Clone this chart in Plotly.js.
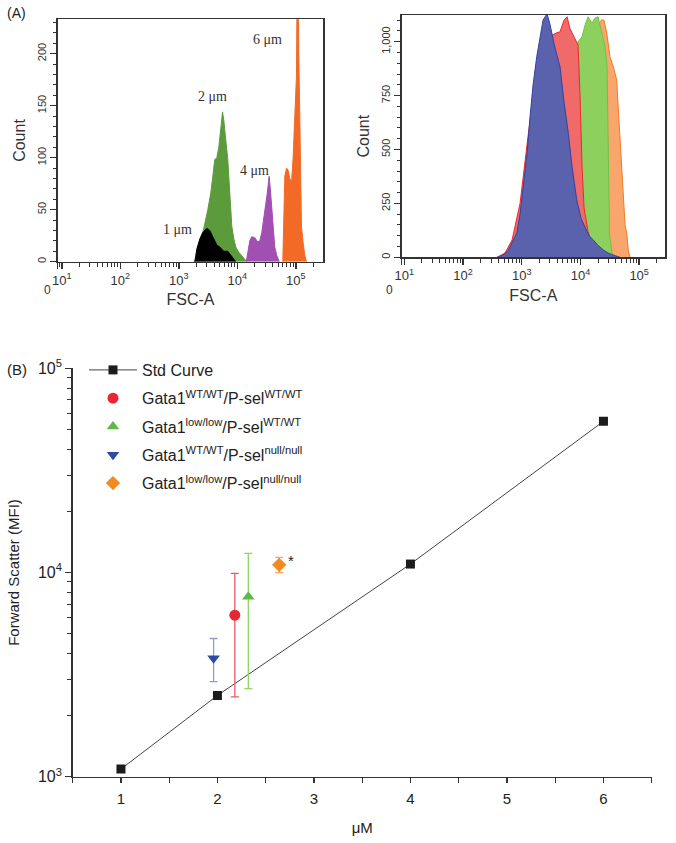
<!DOCTYPE html>
<html><head><meta charset="utf-8">
<script src="https://cdn.plot.ly/plotly-3.0.1.min.js"></script>
<style>html,body{margin:0;padding:0;background:#fff}#chart{width:676px;height:843px}</style>
</head><body><div id="chart"></div>
<script>
// ---------- Panel A (left): calibration beads, FSC-A vs count ----------
const bead1FSC   = [1880, 2030, 2290, 2570, 3010, 3390, 3810, 4470, 5020, 5880, 6880, 7740, 8710, 9420];
const bead1Count = [0, 12, 22, 28, 32, 30, 24, 16, 14, 10, 10, 6, 2, 0];
const bead2FSC   = [1803, 2031, 2287, 2675, 3131, 3524, 3811, 4122, 4465, 4829, 5224, 5585, 5876, 6356, 6880, 7158, 7446, 7745, 8057, 8714, 9424, 10610, 11940, 13430, 14530];
const bead2Count = [0, 4, 18, 32, 50, 66, 82, 98, 100, 110, 128, 144, 136, 118, 98, 82, 66, 50, 34, 22, 14, 9, 6, 2, 0];
const bead4FSC   = [14250, 15100, 16350, 17700, 19910, 22390, 24240, 26230, 28390, 30720, 32580, 34980, 36670, 38880, 41220, 43710, 47310, 52200];
const bead4Count = [0, 10, 20, 24, 23, 19, 20, 28, 40, 56, 66, 82, 70, 50, 30, 14, 6, 0];
const bead6FSC   = [59950, 62330, 64880, 69340, 73830, 78940, 84370, 90000, 96140, 102800, 106100, 109500, 112500, 117000, 120200, 125000, 133300, 142500, 152400];
const bead6Count = [0, 40, 82, 90, 88, 80, 76, 100, 140, 180, 300, 300, 200, 140, 66, 34, 18, 6, 0];

// ---------- Panel A (right): platelet FSC-A histograms ----------
const blueFSC    = [380, 480, 585, 684, 822, 936, 1052, 1231, 1384, 1559, 1801, 2052, 2307, 2698, 3036, 3550, 4489, 5256, 6223, 7196, 8652, 10240, 11970, 14010, 16600, 19960, 24560, 29520, 36310, 47300];
const blueCount  = [0, 10, 30, 70, 113, 200, 320, 480, 650, 800, 930, 1030, 1100, 1130, 1080, 990, 884, 720, 575, 420, 266, 180, 142, 100, 80, 55, 34, 20, 10, 0];
const redFSC     = [380, 520, 684, 936, 1279, 1753, 2400, 3284, 3839, 4489, 5256, 5914, 6653, 7783, 9103, 9845, 10650, 11520, 13470, 15760, 19960, 27310];
const redCount   = [0, 20, 80, 250, 560, 850, 1000, 1030, 1040, 1046, 1100, 1116, 1060, 1020, 985, 750, 420, 230, 120, 60, 25, 0];
const greenFSC   = [769, 1384, 2494, 3690, 5466, 7196, 9103, 10650, 11970, 13470, 15760, 17740, 19960, 23350, 26260, 28400, 30120, 31320, 34540, 40390];
const greenCount = [0, 60, 250, 500, 750, 920, 1000, 1023, 1077, 1116, 1087, 1110, 1116, 1040, 977, 884, 500, 100, 20, 0];
const orangeFSC  = [1384, 3036, 5466, 9845, 14600, 19960, 23070, 25230, 28050, 31920, 36310, 41500, 44230, 47300, 50550, 53840, 57510, 61500, 65500, 69980];
const orangeCount= [0, 200, 500, 850, 1000, 1080, 1102, 1100, 1040, 930, 884, 822, 683, 544, 420, 300, 150, 113, 30, 0];

// ---------- Panel B: forward scatter vs bead size ----------
const stdSize = [1, 2, 4, 6];
const stdMFI  = [1090, 2500, 11000, 55000];
const groupNames = [
  'Gata1<sup>WT/WT</sup>/P-sel<sup>WT/WT</sup>',
  'Gata1<sup>low/low</sup>/P-sel<sup>WT/WT</sup>',
  'Gata1<sup>WT/WT</sup>/P-sel<sup>null/null</sup>',
  'Gata1<sup>low/low</sup>/P-sel<sup>null/null</sup>'
];
const groupSize     = [2.18, 2.32, 1.96, 2.64];
const groupMFI      = [6180, 7600, 3800, 10900];
const groupErrPlus  = [3720, 4800, 950, 950];
const groupErrMinus = [3720, 4900, 880, 900];
const groupSymbols  = ['circle', 'triangle-up', 'triangle-down', 'diamond'];
const groupColors   = ['#e62630', '#5cb946', '#2c4b9e', '#f28a22'];
const groupErrColors= ['#ee5a62', '#93d26e', '#8e9fcf', '#f5a863'];

const FONT = 'Liberation Sans, Arial, sans-serif';
const SERIF = 'Liberation Serif, Times New Roman, serif';
const traces = [];

// Panel B traces (with legend)
traces.push({
  x: stdSize, y: stdMFI, name: 'Std Curve', type: 'scatter', mode: 'lines+markers',
  xaxis: 'x', yaxis: 'y', legendgroup: 'g0',
  line: {color: '#444', width: 1},
  marker: {symbol: 'square', size: 9, color: '#1c1c1c'}
});
for (let i = 0; i < groupNames.length; i++) {
  traces.push({
    x: [groupSize[i]], y: [groupMFI[i]], name: groupNames[i], type: 'scatter', mode: 'markers',
    xaxis: 'x', yaxis: 'y', legendgroup: 'g' + (i + 1),
    marker: {symbol: groupSymbols[i], size: 11, color: groupColors[i]},
    error_y: {type: 'data', symmetric: false, array: [groupErrPlus[i]], arrayminus: [groupErrMinus[i]],
              color: groupErrColors[i], thickness: 1.3, width: 4}
  });
}

// Panel A histograms
function hist(x, y, fill, line, xa, ya) {
  return {x: x, y: y, type: 'scatter', mode: 'lines', fill: 'tozeroy', fillcolor: fill,
          line: {color: line, width: 1}, xaxis: xa, yaxis: ya, showlegend: false, hoverinfo: 'skip'};
}
traces.push(hist(bead2FSC, bead2Count, '#5b9b3c', '#5b9b3c', 'x2', 'y2'));
traces.push(hist(bead1FSC, bead1Count, '#000000', '#000000', 'x2', 'y2'));
traces.push(hist(bead4FSC, bead4Count, '#a24fb3', '#a24fb3', 'x2', 'y2'));
traces.push(hist(bead6FSC, bead6Count, '#f26a25', '#f26a25', 'x2', 'y2'));
traces.push(hist(orangeFSC, orangeCount, '#f8a66c', '#f07a24', 'x3', 'y3'));
traces.push(hist(greenFSC, greenCount, '#8ed05e', '#72c043', 'x3', 'y3'));
traces.push(hist(redFSC, redCount, '#f16a6a', '#e82a2a', 'x3', 'y3'));
traces.push(hist(blueFSC, blueCount, '#5b62ad', '#3342a0', 'x3', 'y3'));

function minorLog(lo, hi) {
  const v = [];
  for (let e = lo; e <= hi; e++) for (let m = 2; m <= 9; m++) v.push(m * Math.pow(10, e));
  return v;
}
const rangeA1 = [0.93, 5.47];
const rangeA2 = [0.956, 5.44];
const decadeVals = [10, 100, 1000, 10000, 100000];
const decadeText = ['10<sup>1</sup>', '10<sup>2</sup>', '10<sup>3</sup>', '10<sup>4</sup>', '10<sup>5</sup>'];

function flowX(range, dom, anchor) {
  return {
    type: 'log', range: range, domain: dom, anchor: anchor,
    showline: true, mirror: true, linecolor: '#333', linewidth: 1.5,
    showgrid: false, zeroline: false,
    ticks: 'outside', ticklen: 6, tickwidth: 1.5, tickcolor: '#333',
    tickvals: [Math.pow(10, range[0])].concat(decadeVals), ticktext: [''].concat(decadeText),
    tickfont: {family: FONT, size: 13, color: '#333'},
    minor: {tickmode: 'array', tickvals: minorLog(0, 5).filter(v => Math.log10(v) > range[0] && Math.log10(v) < range[1]),
            ticks: 'outside', ticklen: 4, tickwidth: 1, tickcolor: '#333'},
    title: {text: 'FSC-A', font: {family: FONT, size: 16, color: '#333'}, standoff: 7}
  };
}
function flowY(range, dom, anchor, vals, text) {
  return {
    range: range, domain: dom, anchor: anchor,
    showline: true, mirror: true, linecolor: '#333', linewidth: 1.5,
    showgrid: false, zeroline: false,
    ticks: 'outside', ticklen: 6, tickwidth: 1.5, tickcolor: '#333',
    tickvals: vals, ticktext: text, tickangle: -90,
    tickfont: {family: FONT, size: 11, color: '#333'},
    title: {text: 'Count', font: {family: FONT, size: 16, color: '#333'}, standoff: 6}
  };
}

const yA1 = flowY([0, 233], [0.6896, 0.9771], 'x2', [0, 50, 100, 150, 200], ['0', '50', '100', '150', '200']);
yA1.minor = {dtick: 10, ticks: 'outside', ticklen: 3, tickwidth: 1, tickcolor: '#333'};
const yA2 = flowY([0, 1124], [0.6948, 0.9822], 'x3', [0, 250, 500, 750, 1000], ['0', '250', '500', '750', '1,000']);
yA2.minor = {dtick: 50, ticks: 'outside', ticklen: 3, tickwidth: 1, tickcolor: '#333'};

const layout = {
  width: 676, height: 843,
  margin: {l: 0, r: 0, t: 0, b: 0},
  paper_bgcolor: '#fff', plot_bgcolor: 'rgba(0,0,0,0)',
  font: {family: FONT, color: '#222'},
  showlegend: true,
  legend: {x: 84 / 676, y: 1 - 353 / 843, xanchor: 'left', yanchor: 'top',
           font: {family: FONT, size: 16, color: '#222'}, itemwidth: 48,
           tracegroupgap: 4.5, bgcolor: 'rgba(0,0,0,0)'},
  xaxis: {
    range: [0.5, 6.5], domain: [72.7 / 676, 651.7 / 676], anchor: 'y',
    showline: true, linecolor: '#333', linewidth: 1.5, showgrid: false, zeroline: false,
    ticks: 'outside', ticklen: 5, tickwidth: 1.2, tickcolor: '#333', dtick: 1, tick0: 0,
    minor: {dtick: 0.5, tick0: 0, ticks: 'outside', ticklen: 5, tickwidth: 1.2, tickcolor: '#333'},
    tickfont: {family: FONT, size: 15, color: '#222'}, ticklabelstandoff: 3,
    title: {text: 'μM', font: {family: FONT, size: 15, color: '#222'}, standoff: 16}
  },
  yaxis: {
    type: 'log', range: [3, 5], domain: [1 - 776.7 / 843, 1 - 368.3 / 843], anchor: 'x',
    showline: true, linecolor: '#333', linewidth: 1.5, showgrid: false, zeroline: false,
    ticks: 'outside', ticklen: 6, tickwidth: 1.2, tickcolor: '#333',
    tickvals: [1000, 10000, 100000], ticktext: ['10<sup>3</sup>', '10<sup>4</sup>', '10<sup>5</sup>'],
    minor: {tickmode: 'array', tickvals: minorLog(3, 4), ticks: 'outside', ticklen: 4, tickwidth: 1, tickcolor: '#333'},
    tickfont: {family: FONT, size: 16, color: '#222'},
    title: {text: 'Forward Scatter (MFI)', font: {family: FONT, size: 15, color: '#222'}, standoff: 14}
  },
  xaxis2: flowX(rangeA1, [57.7 / 676, 323.3 / 676], 'y2'),
  yaxis2: yA1,
  xaxis3: flowX(rangeA2, [401.7 / 676, 665 / 676], 'y3'),
  yaxis3: yA2,
  annotations: [
    {text: '(A)', xref: 'paper', yref: 'paper', x: 5 / 676, y: 1 - 13 / 843, xanchor: 'left', yanchor: 'middle', showarrow: false, font: {family: FONT, size: 14, color: '#222'}},
    {text: '(B)', xref: 'paper', yref: 'paper', x: 5 / 676, y: 1 - 370 / 843, xanchor: 'left', yanchor: 'middle', showarrow: false, font: {family: FONT, size: 15, color: '#222'}},
    {text: '0', xref: 'paper', yref: 'paper', x: 43 / 676, y: 1 - 290 / 843, showarrow: false, borderpad: 0, font: {family: FONT, size: 12, color: '#333'}},
    {text: '0', xref: 'paper', yref: 'paper', x: 390 / 676, y: 1 - 290 / 843, showarrow: false, borderpad: 0, font: {family: FONT, size: 12, color: '#333'}},
    {text: '6 μm', xref: 'x2', yref: 'y2', x: 4.52, y: 214, showarrow: false, font: {family: SERIF, size: 14, color: '#333'}},
    {text: '2 μm', xref: 'x2', yref: 'y2', x: 3.58, y: 159, showarrow: false, font: {family: SERIF, size: 14, color: '#333'}},
    {text: '4 μm', xref: 'x2', yref: 'y2', x: 4.30, y: 88, showarrow: false, font: {family: SERIF, size: 14, color: '#333'}},
    {text: '1 μm', xref: 'x2', yref: 'y2', x: 2.98, y: 31, showarrow: false, font: {family: SERIF, size: 14, color: '#333'}},
    {text: '*', xref: 'x', yref: 'y', x: 2.76, y: 4.06, showarrow: false, font: {family: FONT, size: 15, color: '#222'}}
  ]
};

Plotly.newPlot('chart', traces, layout, {staticPlot: true, displayModeBar: false});
</script>
</body></html>
